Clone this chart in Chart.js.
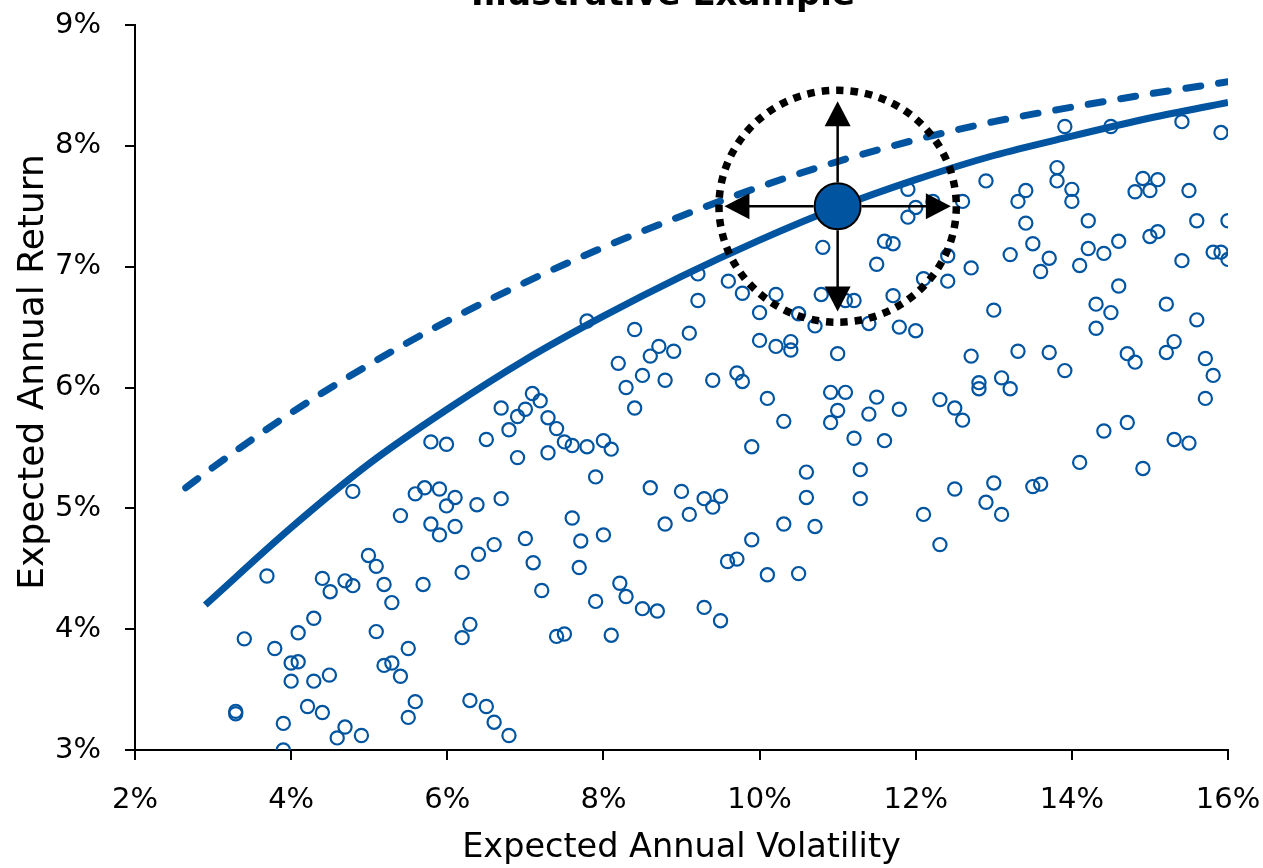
<!DOCTYPE html>
<html>
<head>
<meta charset="utf-8">
<script src="https://cdn.jsdelivr.net/npm/chart.js@4.4.1/dist/chart.umd.min.js"></script>
<style>
html,body{margin:0;padding:0;background:#fff;}
#wrap{width:1263px;height:868px;position:relative;}
</style>
</head>
<body>
<div id="wrap"><canvas id="c"></canvas></div>
<script>
// ---- data (volatility %, expected return %) ----
const assetVol = [5.79,5.99,6.50,4.79,5.59,5.71,5.90,6.10,5.99,6.38,5.40,5.79,5.90,6.10,3.69,3.40,3.79,3.29,3.29,3.90,3.90,4.40,4.50,4.69,4.79,4.29,4.09,4.00,4.09,4.00,4.29,4.49,4.21,4.40,4.69,4.59,4.90,4.99,5.09,5.19,5.29,5.69,5.09,5.50,5.19,5.29,5.40,5.59,5.50,6.19,6.40,6.29,6.19,6.29,6.50,6.60,6.79,
7.79,9.21,9.21,9.60,9.78,8.40,9.10,8.71,8.60,8.90,8.19,8.50,8.79,8.29,8.40,9.40,9.71,9.78,7.09,7.19,6.69,7.00,6.90,7.29,7.40,6.79,7.50,7.60,7.79,8.00,8.10,6.90,7.29,7.90,8.60,9.00,9.29,9.50,9.40,9.10,8.79,6.69,7.60,7.00,7.71,8.00,6.60,7.10,7.21,7.69,7.90,8.21,8.29,8.50,8.69,9.29,9.50,9.59,9.71,7.40,7.50,8.10,
11.90,12.90,12.22,12.00,11.90,12.60,10.81,11.60,11.71,11.50,12.41,12.71,12.10,12.41,10.21,10.00,10.50,10.71,10.79,11.10,11.21,11.71,11.40,11.79,12.00,13.00,10.00,10.21,10.40,10.40,11.00,12.71,10.10,10.91,11.10,11.50,11.00,10.91,11.40,11.79,12.31,12.50,12.60,12.81,12.81,13.10,10.31,9.90,11.21,11.60,10.60,11.29,10.60,11.29,10.31,10.71,9.90,12.10,12.50,13.00,12.90,13.10,12.31,10.10,10.50,
13.91,14.50,15.41,15.91,13.81,13.81,13.41,13.31,14.00,14.00,14.91,15.10,14.81,15.00,15.50,13.41,14.21,15.60,16.00,13.50,13.21,13.71,13.60,14.21,14.10,14.41,14.60,15.00,15.10,15.41,15.81,15.91,16.00,14.60,14.31,14.50,15.21,15.60,14.31,13.31,13.71,13.91,13.21,14.71,14.81,15.21,15.31,15.71,15.81,15.71,14.41,14.71,15.31,15.50,14.10,14.91,13.50,13.60];
const assetRet = [5.55,5.53,5.57,5.14,5.12,5.17,5.16,5.09,5.02,5.03,4.94,4.87,4.78,4.85,4.44,3.92,3.84,3.32,3.30,3.22,3.00,4.42,4.31,4.40,4.36,4.09,3.97,3.72,3.73,3.57,3.57,3.62,3.36,3.31,3.19,3.10,3.12,4.61,4.52,4.37,4.22,4.37,3.98,3.84,3.70,3.72,3.61,3.40,3.27,4.47,4.62,4.04,3.93,3.41,3.36,3.23,3.12,
6.55,6.94,6.72,6.88,6.78,6.48,6.45,6.34,6.26,6.30,6.20,6.10,6.06,6.00,5.83,6.06,6.12,6.05,5.95,5.89,5.83,5.82,5.76,5.75,5.66,5.65,5.55,5.52,5.51,5.56,5.49,5.42,5.46,5.26,5.17,5.14,5.08,5.10,5.01,4.95,4.87,5.08,4.92,4.75,4.73,4.78,4.70,4.55,4.32,4.51,4.23,4.38,4.27,4.17,4.15,4.18,4.07,4.56,4.58,3.94,3.96,3.95,
7.64,7.71,7.54,7.49,7.41,7.54,7.16,7.21,7.19,7.02,7.09,6.99,6.90,6.88,6.77,6.62,6.61,6.51,6.77,6.72,6.72,6.76,6.53,6.50,6.47,6.64,6.39,6.34,6.38,6.31,6.28,6.26,5.91,5.96,5.96,5.92,5.81,5.71,5.78,5.82,5.90,5.83,5.73,6.04,5.99,6.08,5.72,5.51,5.58,5.56,5.30,5.32,5.09,5.08,4.87,4.85,4.74,4.95,5.16,5.21,5.05,4.95,4.70,4.45,4.46,
8.16,8.16,8.20,8.11,7.82,7.71,7.63,7.54,7.64,7.54,7.73,7.72,7.62,7.63,7.63,7.36,7.38,7.38,7.38,7.19,7.10,7.07,6.96,7.15,7.01,7.11,7.21,7.25,7.29,7.05,7.12,7.12,7.06,6.84,6.69,6.62,6.69,6.56,6.49,6.30,6.29,6.14,5.99,6.28,6.21,6.29,6.38,6.24,6.10,5.91,5.64,5.71,5.57,5.54,5.38,5.33,5.18,5.20];

const frontierVol = [2.9,4,5,6,7,8,9,10,11,12,13,14,15,16];
const frontierRet = [4.20,4.84,5.37,5.82,6.23,6.59,6.92,7.22,7.49,7.72,7.92,8.08,8.23,8.36];

const upperVol = [2.65,3,4,5,6,7,8,9,10,11,12,13,14,15,16];
const upperRet = [5.17,5.34,5.79,6.19,6.55,6.87,7.16,7.42,7.66,7.87,8.05,8.20,8.32,8.43,8.53];

const portfolioVol = [11.0];
const portfolioRet = [7.5];

const xTicks = [2,4,6,8,10,12,14,16];
const yTicks = [3,4,5,6,7,8,9];

const titleText = 'Illustrative Example';
const xTitle = 'Expected Annual Volatility';
const yTitle = 'Expected Annual Return';

// annotation shape (data units): dotted uncertainty ellipse radii and arrow reach
const ellipseRadius = [1.52, 0.96];
const arrowReach = [1.45, 0.87];

const BLUE = '#0054A0';
const FONT = 'DejaVu Sans';

const pts = (xs, ys) => xs.map((v, i) => ({x: v, y: ys[i]}));

const annot = {
  id: 'annot',
  afterDatasetsDraw(chart) {
    const {ctx, scales: {x, y}} = chart;
    const cx = x.getPixelForValue(portfolioVol[0]);
    const cy = y.getPixelForValue(portfolioRet[0]);
    const rx = x.getPixelForValue(portfolioVol[0] + ellipseRadius[0]) - cx;
    const ry = cy - y.getPixelForValue(portfolioRet[0] + ellipseRadius[1]);
    ctx.save();
    ctx.strokeStyle = '#000';
    ctx.lineWidth = 7.5;
    ctx.setLineDash([7.5, 7]);
    ctx.lineCap = 'butt';
    ctx.beginPath();
    ctx.ellipse(cx, cy, rx, ry, 0, 0, Math.PI * 2);
    ctx.stroke();
    ctx.setLineDash([]);
    const r0 = 24, head = 25, hw = 13;
    const ends = [
      [x.getPixelForValue(portfolioVol[0] + arrowReach[0]) - cx, 0],
      [x.getPixelForValue(portfolioVol[0] - arrowReach[0]) - cx, 0],
      [0, y.getPixelForValue(portfolioRet[0] + arrowReach[1]) - cy],
      [0, y.getPixelForValue(portfolioRet[0] - arrowReach[1]) - cy]
    ];
    ctx.lineWidth = 2.5;
    ctx.fillStyle = '#000';
    ends.forEach(([dx, dy]) => {
      const len = Math.hypot(dx, dy);
      const ux = dx / len, uy = dy / len;
      ctx.beginPath();
      ctx.moveTo(cx + ux * r0, cy + uy * r0);
      ctx.lineTo(cx + ux * (len - head + 2), cy + uy * (len - head + 2));
      ctx.stroke();
      const bx = cx + ux * (len - head), by = cy + uy * (len - head);
      ctx.beginPath();
      ctx.moveTo(cx + dx, cy + dy);
      ctx.lineTo(bx - uy * hw, by + ux * hw);
      ctx.lineTo(bx + uy * hw, by - ux * hw);
      ctx.closePath();
      ctx.fill();
    });
    ctx.restore();
  },
  afterDraw(chart) {
    const {ctx} = chart;
    ctx.save();
    ctx.fillStyle = '#000';
    ctx.font = 'bold 34px "' + FONT + '"';
    ctx.textAlign = 'center';
    ctx.textBaseline = 'alphabetic';
    ctx.fillText(titleText, 663, 5);
    ctx.font = '36px "' + FONT + '"';
    ctx.translate(34, 372);
    ctx.rotate(-Math.PI / 2);
    ctx.textBaseline = 'middle';
    ctx.fillText(yTitle, 0, 0);
    ctx.restore();
  }
};

new Chart(document.getElementById('c'), {
  type: 'scatter',
  data: {
    datasets: [
      {
        label: 'Portfolio',
        data: pts(portfolioVol, portfolioRet),
        pointRadius: 23,
        pointHoverRadius: 23,
        pointBackgroundColor: BLUE,
        pointBorderColor: '#000',
        pointBorderWidth: 2,
        order: 0
      },
      {
        label: 'Frontier',
        data: pts(frontierVol, frontierRet),
        showLine: true,
        borderColor: BLUE,
        borderWidth: 7,
        pointRadius: 0,
        cubicInterpolationMode: 'monotone',
        order: 1
      },
      {
        label: 'Shifted frontier',
        data: pts(upperVol, upperRet),
        showLine: true,
        borderColor: BLUE,
        borderWidth: 7,
        borderDash: [15, 18],
        borderCapStyle: 'round',
        pointRadius: 0,
        cubicInterpolationMode: 'monotone',
        order: 2
      },
      {
        label: 'Assets',
        data: pts(assetVol, assetRet),
        pointRadius: 6.6,
        pointBorderWidth: 2.2,
        pointBorderColor: BLUE,
        pointBackgroundColor: 'rgba(0,0,0,0)',
        order: 3
      }
    ]
  },
  options: {
    responsive: true,
    maintainAspectRatio: false,
    animation: false,
    events: [],
    layout: {padding: {top: 25, right: 35, left: 0, bottom: 0}},
    plugins: {legend: {display: false}, tooltip: {enabled: false}, title: {display: false}},
    scales: {
      x: {
        type: 'linear', min: 2, max: 16,
        afterBuildTicks: s => { s.ticks = xTicks.map(v => ({value: v})); },
        afterFit: s => { s.height = 118; s.paddingLeft = 0; s.paddingRight = 0; },
        ticks: {color: '#000', font: {family: FONT, size: 29}, padding: 23, callback: v => v + '%'},
        grid: {drawOnChartArea: false, drawTicks: true, tickLength: 10, color: '#000', lineWidth: 2},
        border: {display: true, color: '#000', width: 2},
        title: {display: true, text: xTitle, color: '#000', font: {family: FONT, size: 33.5}, padding: {top: 0, bottom: 0}}
      },
      y: {
        type: 'linear', min: 3, max: 9,
        afterBuildTicks: s => { s.ticks = yTicks.map(v => ({value: v})); },
        afterFit: s => { s.width = 135; s.paddingTop = 0; s.paddingBottom = 0; },
        ticks: {color: '#000', font: {family: FONT, size: 29}, padding: 24, callback: v => v + '%'},
        grid: {drawOnChartArea: false, drawTicks: true, tickLength: 10, color: '#000', lineWidth: 2},
        border: {display: true, color: '#000', width: 2}
      }
    }
  },
  plugins: [annot]
});
</script>
</body>
</html>
